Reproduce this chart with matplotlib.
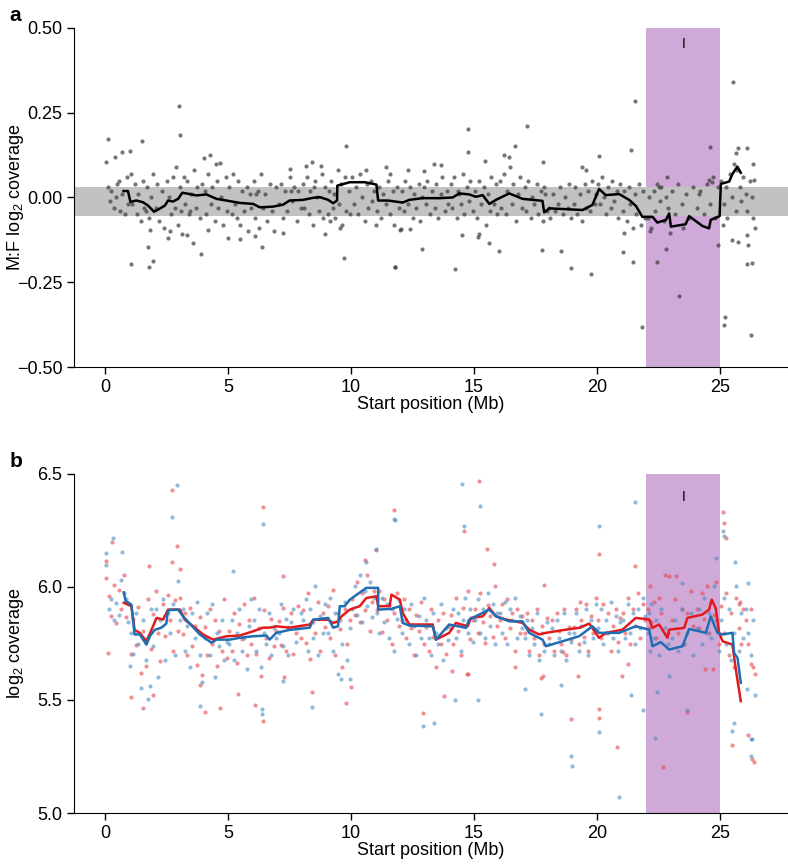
import numpy as np
import matplotlib
matplotlib.use("Agg")
import matplotlib.pyplot as plt

plt.rcParams['font.family'] = ['Liberation Sans', 'DejaVu Sans']
plt.rcParams['mathtext.default'] = 'regular'

# --- panel a: M:F log2 coverage per window ---
a_x = [0.1, 0.25, 0.35, 0.45, 0.55, 0.6, 0.7, 0.8, 0.9, 0.95, 0.5, 0.2,
       1.05, 1.1, 1.2, 1.3, 1.35, 1.45, 1.55, 1.6, 1.7, 1.8, 1.85, 1.95, 1.65,
       2.05, 2.1, 2.2, 2.3, 2.4, 2.5, 2.55, 2.6, 2.7, 2.75, 2.85, 2.9, 2.95, 2.65,
       3.05, 3.1, 3.2, 3.25, 3.35, 3.4, 3.5, 3.6, 3.7, 3.75, 3.85, 3.95, 3.45,
       4.05, 4.1, 4.2, 4.3, 4.35, 4.45, 4.55, 4.6, 4.7, 4.8, 4.9, 4.95, 4.5,
       5.05, 5.15, 5.2, 5.3, 5.4, 5.5, 5.55, 5.65, 5.75, 5.8, 5.9, 5.95, 5.35,
       6.05, 6.1, 6.2, 6.25, 6.35, 6.4, 6.5, 6.6, 6.7, 6.8, 6.85, 6.95, 6.15,
       7.05, 7.15, 7.25, 7.3, 7.4, 7.5, 7.6, 7.7, 7.8, 7.85, 7.95, 7.55,
       8.05, 8.1, 8.2, 8.3, 8.35, 8.45, 8.55, 8.6, 8.7, 8.8, 8.85, 8.95, 8.5,
       9.05, 9.1, 9.15, 9.2, 9.25, 9.3, 9.35, 9.45, 9.5, 9.6, 9.65, 9.75, 9.8, 9.9, 9.95, 9.55,
       10.05, 10.1, 10.2, 10.3, 10.35, 10.45, 10.55, 10.65, 10.7, 10.8, 10.85, 10.95,
       11.05, 11.15, 11.2, 11.3, 11.4, 11.5, 11.6, 11.7, 11.75, 11.85, 11.95,
       12.05, 12.15, 12.2, 12.3, 12.4, 12.5, 12.55, 12.65, 12.75, 12.8, 12.9, 12.95,
       13.05, 13.1, 13.2, 13.3, 13.4, 13.45, 13.55, 13.65, 13.7, 13.8, 13.9, 13.95,
       14.05, 14.1, 14.2, 14.3, 14.35, 14.45, 14.55, 14.6, 14.7, 14.8, 14.85, 14.95, 14.4,
       15.05, 15.1, 15.2, 15.3, 15.4, 15.5, 15.55, 15.65, 15.7, 15.8, 15.9, 15.95,
       16.05, 16.1, 16.2, 16.3, 16.35, 16.45, 16.55, 16.6, 16.7, 16.8, 16.85, 16.95,
       17.05, 17.1, 17.2, 17.3, 17.35, 17.45, 17.55, 17.6, 17.7, 17.8, 17.85, 17.95, 17.9,
       18.05, 18.1, 18.2, 18.3, 18.4, 18.5, 18.6, 18.7, 18.8, 18.85, 18.95,
       19.05, 19.1, 19.2, 19.3, 19.4, 19.5, 19.55, 19.65, 19.7, 19.8, 19.9, 19.95,
       20.05, 20.1, 20.2, 20.3, 20.35, 20.45, 20.55, 20.6, 20.7, 20.8, 20.85, 20.95,
       21.05, 21.1, 21.2, 21.3, 21.35, 21.45, 21.55, 21.6, 21.7, 21.8, 21.85, 21.95,
       22.05, 22.1, 22.2, 22.3, 22.35, 22.45, 22.55, 22.6, 22.7, 22.8, 22.9, 22.15,
       23.05, 23.15, 23.3, 23.45, 23.6, 23.75, 23.9, 23.5,
       24.05, 24.2, 24.35, 24.45, 24.6, 24.7, 24.8, 24.9, 24.15,
       25.05, 25.15, 25.25, 25.3, 25.4, 25.5, 25.55, 25.65, 25.7, 25.8, 25.85, 25.95,
       26.05, 26.1, 26.2, 26.3, 26.35,
       # outliers
       0.05, 0.12, 0.41, 0.68, 1.03, 1.52, 1.06, 1.78, 1.75, 1.96, 1.82, 2.99, 3.05,
       4.25, 4.02, 3.89, 3.58, 3.14, 3.33, 4.2, 4.66, 4.99, 5.47, 6.1, 6.38, 7.24,
       7.5, 8.18, 8.41, 8.78, 8.96, 9.8, 9.73, 10.62, 11.4, 11.03, 11.6, 11.8, 11.98,
       21.55, 25.53, 14.77, 17.15, 16.65, 14.77, 21.36, 24.57, 25.72, 26.09, 26.34,
       26.38, 26.41, 26.11, 26.15, 26.29, 26.11, 26.25, 25.2, 25.16, 21.82, 23.34,
       22.43, 22.82, 22.96, 24.93, 25.5, 25.74, 21.07, 21.44, 21.11, 19.76, 18.94,
       18.53, 17.76, 16.02, 15.59, 14.22, 12.88, 11.8, 14.51, 15.14, 15.21, 12.4,
       12.03, 22.86, 22.52, 24.55, 24.69, 25.12, 25.64, 20.06, 19.37, 19.55, 17.81,
       13.38, 13.66, 12.98, 16.23, 16.43, 15.45, 12.32]
a_y = [0.03, 0.02, -0.03, 0.0, 0.05, -0.04, 0.01, -0.05, 0.06, -0.02, 0.04, -0.01,
       0.07, -0.02, 0.04, -0.05, 0.01, -0.07, 0.05, -0.03, 0.03, -0.06, 0.0, 0.07, -0.04,
       -0.03, 0.04, -0.07, 0.02, -0.09, 0.05, -0.12, 0.0, -0.05, 0.06, -0.03, 0.09, -0.08, -0.1,
       0.03, -0.04, 0.06, -0.02, 0.05, -0.05, 0.01, 0.08, -0.03, 0.03, -0.06, 0.04, -0.04,
       0.02, -0.05, 0.07, -0.02, 0.03, -0.07, 0.05, -0.03, 0.0, -0.08, 0.06, -0.04, 0.1,
       0.03, -0.05, 0.07, -0.02, 0.05, -0.08, 0.02, -0.04, 0.03, -0.1, 0.01, -0.03, -0.06,
       0.05, -0.06, 0.02, -0.09, 0.07, -0.03, 0.01, -0.07, 0.04, -0.04, -0.1, 0.03, 0.01,
       -0.02, 0.04, -0.06, 0.02, -0.04, 0.06, -0.01, 0.03, -0.07, 0.02, -0.03, 0.02,
       0.04, -0.03, 0.06, -0.05, 0.02, -0.08, 0.05, 0.0, -0.04, 0.07, -0.06, 0.03, 0.03,
       -0.05, 0.02, -0.07, 0.05, -0.03, 0.01, -0.06, 0.08, -0.02, 0.04, -0.08, 0.06, -0.04, 0.02, -0.05, -0.09,
       0.06, -0.02, 0.03, -0.05, 0.07, 0.0, -0.07, 0.04, -0.03, 0.05, -0.01, 0.02,
       -0.04, 0.03, -0.06, 0.01, -0.02, 0.05, -0.05, 0.02, -0.08, 0.03, -0.03,
       0.02, -0.04, 0.05, -0.02, 0.03, -0.06, 0.01, -0.03, 0.04, -0.07, 0.0, 0.03,
       -0.02, 0.05, -0.05, 0.02, -0.03, 0.04, -0.06, 0.01, 0.06, -0.04, 0.02, -0.02,
       0.04, -0.03, 0.06, -0.06, 0.02, -0.02, 0.07, -0.05, 0.03, -0.01, 0.05, -0.04, 0.01,
       0.02, -0.06, 0.05, -0.02, 0.03, -0.08, 0.01, -0.04, 0.06, -0.02, 0.04, -0.05,
       0.05, -0.03, 0.07, -0.05, 0.02, 0.09, -0.02, 0.04, -0.07, 0.01, 0.06, -0.03,
       0.03, -0.04, 0.05, -0.06, 0.0, -0.02, 0.04, -0.05, 0.02, -0.07, 0.03, -0.04, 0.01,
       -0.03, -0.06, 0.01, -0.04, -0.02, 0.03, -0.05, 0.0, -0.03, 0.04, -0.06,
       -0.02, 0.03, -0.05, 0.01, -0.07, 0.04, -0.03, 0.02, -0.04, 0.05, -0.02, 0.01,
       0.04, -0.02, 0.06, 0.0, -0.05, 0.03, -0.03, 0.05, -0.01, 0.02, -0.06, 0.04,
       -0.04, 0.02, -0.07, 0.03, -0.02, -0.09, 0.01, -0.05, 0.04, -0.08, 0.02, -0.06,
       -0.06, 0.0, -0.09, 0.02, -0.04, 0.04, -0.01, 0.03, -0.07, 0.0, -0.03, -0.1,
       0.02, -0.05, 0.04, -0.02, 0.01, -0.06, 0.03, -0.09,
       -0.03, 0.02, -0.05, 0.04, -0.02, 0.06, -0.06, 0.03, 0.01,
       0.05, -0.02, 0.03, -0.06, 0.07, 0.0, 0.1, -0.04, 0.08, 0.03, -0.01, 0.06,
       0.01, -0.04, 0.05, 0.0, -0.06,
       # outliers
       0.104, 0.173, 0.12, 0.134, 0.137, 0.168, -0.196, -0.206, -0.147, -0.186, -0.095, 0.27, 0.184,
       0.124, 0.117, -0.166, -0.134, -0.107, -0.112, -0.097, 0.101, -0.119, -0.121, -0.115, -0.147, -0.104,
       0.085, 0.092, 0.106, 0.092, -0.107, 0.152, -0.179, 0.082, 0.09, -0.08, 0.07, -0.206, -0.097,
       0.286, 0.342, 0.201, 0.212, 0.153, 0.135, 0.14, 0.148, 0.145, 0.145, 0.099,
       0.052, -0.091, -0.111, -0.14, -0.194, -0.197, -0.406, -0.352, -0.376, -0.383, -0.29,
       -0.191, -0.153, -0.104, -0.14, -0.125, -0.13, -0.162, -0.189, -0.106, -0.226, -0.209,
       -0.158, -0.155, -0.157, -0.135, -0.212, -0.153, -0.206, -0.112, -0.117, -0.108, -0.092,
       -0.094, 0.061, 0.032, 0.052, 0.047, -0.082, 0.13, 0.122, 0.091, 0.081, 0.106,
       0.1, 0.096, 0.079, 0.125, 0.12, 0.109, 0.081]

# running median (panel a)
a_line_x = [0.75, 0.93, 1.03, 1.27, 1.54, 1.75, 1.99, 2.22, 2.43, 2.56, 2.76, 2.97, 3.14,
            3.37, 3.71, 4.12, 4.53, 4.93, 5.47, 6.02, 6.29, 6.83, 7.24, 7.5, 8.05, 8.46,
            8.73, 9.07, 9.27, 9.43, 9.44, 9.95, 10.56, 11.03, 11.1, 11.5, 12.1, 12.37,
            12.9, 13.6, 14.13, 14.4, 14.8, 15.08, 15.35, 15.62, 15.89, 16.43, 16.97,
            17.78, 17.85, 18.06, 19.41, 19.81, 20.08, 20.35, 20.9, 21.3, 21.58, 21.84,
            22.25, 22.45, 22.8, 22.93, 23.0, 23.6, 23.74, 24.28, 24.55, 24.62, 24.98,
            25.03, 25.37, 25.5, 25.7, 25.84]
a_line_y = [0.019, 0.019, -0.013, -0.009, -0.014, -0.024, -0.042, -0.033, -0.024, -0.009,
            -0.012, -0.004, 0.014, 0.011, 0.006, 0.009, -0.004, -0.009, -0.016, -0.019,
            -0.029, -0.027, -0.021, -0.009, -0.007, -0.001, 0.001, -0.007, -0.017, -0.009,
            0.035, 0.045, 0.045, 0.038, -0.009, -0.009, -0.015, -0.007, -0.002, -0.002,
            0.0, 0.012, 0.009, 0.002, 0.007, -0.019, -0.007, 0.012, -0.004, -0.01, -0.044,
            -0.032, -0.037, -0.022, 0.025, 0.007, 0.01, -0.007, -0.025, -0.057, -0.057,
            -0.074, -0.066, -0.047, -0.086, -0.079, -0.055, -0.084, -0.091, -0.066, -0.055,
            0.04, 0.047, 0.069, 0.091, 0.073]

# --- panel b: log2 coverage, male (red) and female (blue) per window ---
b_x = [0.05, 0.15, 0.25, 0.35, 0.45, 0.55, 0.65, 0.75, 0.85, 0.95,
       1.05, 1.15, 1.25, 1.35, 1.45, 1.55, 1.65, 1.75, 1.85, 1.95,
       2.05, 2.15, 2.25, 2.35, 2.45, 2.55, 2.65, 2.75, 2.85, 2.95,
       3.05, 3.15, 3.25, 3.35, 3.45, 3.55, 3.65, 3.75, 3.85, 3.95,
       4.05, 4.15, 4.25, 4.35, 4.45, 4.55, 4.65, 4.75, 4.85, 4.95,
       5.05, 5.15, 5.25, 5.35, 5.45, 5.55, 5.65, 5.75, 5.85, 5.95,
       6.05, 6.15, 6.25, 6.35, 6.45, 6.55, 6.65, 6.75, 6.85, 6.95,
       7.05, 7.15, 7.25, 7.35, 7.45, 7.55, 7.65, 7.75, 7.85, 7.95,
       8.05, 8.15, 8.25, 8.35, 8.45, 8.55, 8.65, 8.75, 8.85, 8.95,
       9.05, 9.15, 9.25, 9.35, 9.45, 9.55, 9.65, 9.75, 9.85, 9.95,
       10.05, 10.15, 10.25, 10.35, 10.45, 10.55, 10.65, 10.75, 10.85, 10.95,
       11.05, 11.15, 11.25, 11.35, 11.45, 11.55, 11.65, 11.75, 11.85, 11.95,
       12.05, 12.15, 12.25, 12.35, 12.45, 12.55, 12.65, 12.75, 12.85, 12.95,
       13.05, 13.15, 13.25, 13.35, 13.45, 13.55, 13.65, 13.75, 13.85, 13.95,
       14.05, 14.15, 14.25, 14.35, 14.45, 14.55, 14.65, 14.75, 14.85, 14.95,
       15.05, 15.15, 15.25, 15.35, 15.45, 15.55, 15.65, 15.75, 15.85, 15.95,
       16.05, 16.15, 16.25, 16.35, 16.45, 16.55, 16.65, 16.75, 16.85, 16.95,
       17.05, 17.15, 17.25, 17.35, 17.45, 17.55, 17.65, 17.75, 17.85, 17.95,
       18.05, 18.15, 18.25, 18.35, 18.45, 18.55, 18.65, 18.75, 18.85, 18.95,
       19.05, 19.15, 19.25, 19.35, 19.45, 19.55, 19.65, 19.75, 19.85, 19.95,
       20.05, 20.15, 20.25, 20.35, 20.45, 20.55, 20.65, 20.75, 20.85, 20.95,
       21.05, 21.15, 21.25, 21.35, 21.45, 21.55, 21.65, 21.75, 21.85, 21.95,
       22.05, 22.1, 22.15, 22.2, 22.3, 22.4, 22.5, 22.6, 22.75, 22.9,
       23.05, 23.15, 23.3, 23.45, 23.55, 23.65, 23.8, 23.9,
       24.05, 24.15, 24.25, 24.35, 24.45, 24.55, 24.65, 24.75, 24.85, 24.95,
       25.05, 25.15, 25.25, 25.35, 25.45, 25.55, 25.65, 25.75, 25.85, 25.95,
       26.05, 26.15, 26.25, 26.35]
red_y = [6.041, 5.962, 5.873, 6.008, 5.842, 5.987, 5.904, 6.052, 5.868, 5.927,
         5.703, 5.857, 5.744, 5.912, 5.618, 5.806, 5.652, 5.948, 5.727, 5.881,
         5.983, 5.797, 5.671, 5.923, 5.784, 5.966, 5.853, 5.716, 5.942, 5.805,
         5.951, 5.793, 5.884, 5.698, 5.907, 5.741, 5.826, 5.653, 5.866, 5.612,
         5.824, 5.697, 5.903, 5.746, 5.852, 5.651, 5.805, 5.718, 5.947, 5.684,
         5.806, 5.716, 5.887, 5.663, 5.834, 5.771, 5.924, 5.697, 5.853, 5.748,
         5.953, 5.702, 5.817, 5.606, 5.896, 5.774, 5.684, 5.857, 5.738, 5.803,
         5.851, 5.742, 5.906, 5.716, 5.823, 5.884, 5.703, 5.797, 5.917, 5.776,
         5.898, 5.754, 5.972, 5.683, 5.846, 5.798, 5.932, 5.716, 5.884, 5.823,
         5.917, 5.776, 5.985, 5.697, 5.883, 5.816, 5.647, 5.903, 5.748, 5.852,
         5.948, 5.877, 6.024, 5.846, 5.972, 5.897, 6.053, 5.803, 5.934, 5.984,
         5.897, 5.983, 5.802, 5.947, 5.853, 5.918, 5.746, 5.884, 5.972, 5.826,
         5.853, 5.948, 5.776, 5.904, 5.818, 5.697, 5.876, 5.803, 5.932, 5.748,
         5.823, 5.716, 5.902, 5.777, 5.647, 5.853, 5.746, 5.884, 5.703, 5.827,
         5.876, 5.748, 5.953, 5.804, 5.697, 5.906, 5.827, 5.984, 5.772, 5.853,
         5.903, 5.797, 5.972, 5.846, 5.752, 5.918, 5.873, 5.777, 6.004, 5.826,
         5.853, 5.924, 5.776, 5.948, 5.817, 5.884, 5.716, 5.903, 5.797, 5.872,
         5.797, 5.883, 5.718, 5.854, 5.776, 5.903, 5.697, 5.826, 5.748, 5.863,
         5.776, 5.853, 5.716, 5.884, 5.803, 5.748, 5.903, 5.697, 5.823, 5.772,
         5.823, 5.903, 5.748, 5.853, 5.777, 5.924, 5.716, 5.873, 5.797, 5.953,
         5.853, 5.776, 5.924, 5.797, 5.883, 5.716, 5.826, 5.903, 5.757, 5.864,
         5.884, 5.797, 5.953, 5.748, 5.903, 5.826, 5.972, 5.776, 5.924, 5.853,
         5.903, 5.817, 6.004, 5.846, 5.934, 5.776, 5.953, 5.884, 6.052, 5.797,
         5.853, 5.948, 5.797, 5.903, 5.748, 5.884, 5.984, 5.826,
         5.903, 5.817, 5.972, 5.857, 6.004, 5.797, 5.934, 5.876, 6.024, 5.748,
         5.917, 5.797, 5.972, 5.697, 5.884, 5.647, 5.953, 5.817, 5.748, 5.903,
         5.853, 5.748, 5.903, 5.647]
blue_y = [6.098, 5.903, 5.948, 5.853, 5.927, 5.876, 6.032, 5.972, 5.947, 5.846,
          5.797, 5.703, 5.884, 5.748, 5.553, 5.853, 5.676, 5.776, 5.903, 5.737,
          5.903, 5.603, 5.853, 5.948, 5.676, 5.884, 5.797, 5.924, 5.697, 6.028,
          5.853, 5.903, 5.716, 5.826, 5.647, 5.884, 5.776, 5.932, 5.697, 5.578,
          5.776, 5.884, 5.697, 5.924, 5.603, 5.797, 5.737, 5.853, 5.676, 5.757,
          5.748, 5.853, 5.676, 5.797, 5.903, 5.716, 5.776, 5.637, 5.826, 5.948,
          5.853, 5.716, 5.903, 5.647, 5.797, 5.748, 5.884, 5.697, 5.817, 5.776,
          5.797, 5.924, 5.737, 5.857, 5.697, 5.843, 5.903, 5.757, 5.817, 5.884,
          5.853, 5.948, 5.716, 5.903, 5.776, 6.004, 5.697, 5.873, 5.797, 5.924,
          5.797, 5.953, 5.716, 5.884, 5.617, 5.853, 5.748, 5.932, 5.676, 5.817,
          5.903, 6.004, 5.876, 6.052, 5.846, 5.984, 5.917, 6.024, 5.866, 5.953,
          5.884, 5.797, 5.953, 5.846, 5.924, 5.776, 5.903, 5.716, 5.857, 5.943,
          5.797, 5.903, 5.853, 5.748, 5.924, 5.826, 5.697, 5.873, 5.776, 5.953,
          5.853, 5.776, 5.697, 5.884, 5.797, 5.748, 5.924, 5.676, 5.817, 5.767,
          5.817, 5.903, 5.776, 5.884, 5.716, 5.853, 5.953, 5.797, 5.903, 5.757,
          5.853, 5.948, 5.797, 5.903, 5.776, 5.972, 5.826, 5.924, 5.748, 5.884,
          5.884, 5.797, 5.932, 5.748, 5.903, 5.853, 5.953, 5.776, 5.873, 5.817,
          5.776, 5.853, 5.697, 5.817, 5.748, 5.884, 5.676, 5.797, 5.716, 5.843,
          5.748, 5.817, 5.697, 5.853, 5.776, 5.716, 5.884, 5.676, 5.797, 5.757,
          5.797, 5.884, 5.716, 5.826, 5.757, 5.903, 5.697, 5.853, 5.776, 5.924,
          5.817, 5.903, 5.748, 5.853, 5.797, 5.932, 5.776, 5.873, 5.716, 5.843,
          5.853, 5.776, 5.924, 5.797, 5.884, 5.748, 5.903, 5.817, 5.953, 5.873,
          5.797, 5.884, 5.716, 5.924, 5.776, 5.853, 5.697, 5.903, 5.817, 5.748,
          5.776, 5.853, 5.716, 5.903, 5.748, 5.797, 5.884, 5.697,
          5.817, 5.903, 5.748, 5.953, 5.797, 5.884, 5.776, 6.004, 5.853, 5.716,
          5.853, 5.953, 5.748, 5.903, 5.676, 5.797, 6.004, 5.716, 5.884, 5.776,
          5.903, 5.797, 5.697, 5.853]

red_out_x = [2.74, 2.94, 6.4, 0.05, 0.3, 0.12, 1.06, 1.54, 1.95, 4.08, 4.66, 6.08, 6.4,
             9.78, 9.99, 8.41, 7.26, 5.41, 3.85, 1.79, 2.74, 3.04, 7.24, 11.0, 10.56,
             15.21, 11.76, 14.6, 15.52, 15.82, 20.06, 21.53, 25.1, 25.16, 25.23, 22.66,
             20.8, 18.93, 20.06, 20.09, 25.5, 26.15, 26.31, 26.38, 12.94, 13.76, 14.1,
             14.7, 14.76, 16.67, 17.72, 17.81, 18.6, 19.21, 21.03, 21.24, 23.65, 24.39,
             24.72, 26.25, 26.42, 25.8, 25.75, 17.85, 19.3, 23.2, 22.93]
red_out_y = [6.43, 6.183, 6.353, 6.113, 6.197, 5.708, 5.514, 5.465, 5.524, 5.446, 5.465,
             5.48, 5.409, 5.485, 5.557, 5.536, 5.6, 5.527, 5.568, 6.091, 6.109, 6.08,
             6.047, 6.162, 6.118, 6.467, 6.342, 6.246, 6.168, 6.102, 6.147, 6.094, 6.33,
             6.283, 6.216, 5.205, 5.293, 5.418, 5.458, 5.421, 5.303, 5.343, 5.237, 5.225,
             5.443, 5.517, 5.627, 5.617, 5.613, 5.647, 5.598, 5.605, 5.713, 5.608, 5.608,
             5.657, 5.446, 5.638, 5.635, 5.657, 5.613, 5.932, 5.925, 6.01, 5.932, 6.05,
             6.05]
blue_out_x = [2.94, 2.74, 6.4, 0.33, 0.05, 0.68, 1.03, 1.75, 1.84, 3.86, 6.38, 6.38, 8.41,
              9.95, 9.58, 10.6, 11.0, 11.77, 5.2, 7.24, 14.51, 11.76, 15.24, 14.6, 21.55,
              20.06, 25.12, 25.14, 20.9, 18.93, 18.97, 22.36, 20.06, 17.74, 15.14, 12.94,
              13.38, 14.22, 17.08, 18.53, 21.37, 21.85, 22.43, 22.93, 23.65, 25.5, 25.57,
              26.08, 26.25, 26.31, 26.25, 26.42, 26.15, 24.82, 25.61, 23.47]
blue_out_y = [6.452, 6.308, 6.28, 6.216, 6.15, 6.153, 5.65, 5.505, 5.561, 5.473, 5.458,
              5.436, 5.468, 5.594, 5.594, 6.109, 6.168, 6.297, 6.069, 5.586, 6.455, 6.3,
              6.356, 6.271, 6.378, 6.268, 6.249, 6.224, 5.072, 5.252, 5.208, 5.333, 5.358,
              5.44, 5.498, 5.387, 5.399, 5.502, 5.549, 5.568, 5.52, 5.455, 5.535, 5.608,
              5.455, 5.362, 5.396, 5.549, 5.326, 5.329, 5.252, 5.52, 6.018, 6.128, 6.109,
              6.018]

red_line_x = [0.76, 1.07, 1.2, 1.41, 1.68, 1.95, 2.09, 2.36, 2.56, 3.04, 3.24, 3.58, 3.98,
              4.39, 4.93, 5.47, 6.02, 6.42, 6.69, 6.96, 7.5, 8.32, 8.46, 9.07, 9.27, 9.47,
              9.61, 9.95, 10.35, 10.62, 11.03, 11.1, 11.57, 11.64, 11.98,
              12.1, 12.37, 13.32, 13.45, 13.99, 14.26, 14.74, 14.87, 15.35, 15.62, 15.89,
              16.3, 16.97, 17.24, 17.65, 17.92, 18.6, 19.27, 19.68, 20.08, 20.36, 21.03,
              21.57, 22.12, 22.25, 22.52, 22.86, 22.93, 23.54, 23.67, 24.28, 24.55, 24.66,
              24.82, 24.96, 25.1, 25.5, 25.64, 25.84]
red_line_y = [5.93, 5.915, 5.81, 5.797, 5.76, 5.826, 5.863, 5.856, 5.9, 5.9, 5.855, 5.826,
              5.79, 5.767, 5.782, 5.785, 5.804, 5.82, 5.82, 5.826, 5.82, 5.834, 5.855,
              5.855, 5.841, 5.848, 5.87, 5.9, 5.915, 5.951, 5.959, 5.915, 5.915, 5.966,
              5.944, 5.885, 5.834, 5.834, 5.767, 5.797, 5.841, 5.826, 5.863, 5.87, 5.907,
              5.87, 5.856, 5.841, 5.811, 5.79, 5.797, 5.809, 5.819, 5.838, 5.775, 5.797,
              5.811, 5.863, 5.856, 5.819, 5.834, 5.775, 5.811, 5.819, 5.863, 5.878, 5.9,
              5.944, 5.907, 5.797, 5.76, 5.745, 5.635, 5.495]
blue_line_x = [0.76, 0.84, 1.07, 1.2, 1.41, 1.68, 1.82, 2.02, 2.29, 2.49, 2.56, 2.97, 3.17,
               3.51, 3.85, 4.33, 4.53, 5.07, 5.47, 6.02, 6.56, 6.69, 6.96, 7.5, 8.32, 8.46,
               9.07, 9.27, 9.47, 9.54, 9.74, 9.95, 10.62, 11.1, 11.1, 11.64, 11.98,
               12.1, 12.37, 13.32, 13.45, 13.99, 14.67, 14.8, 15.21, 15.62, 15.89, 16.43,
               16.97, 17.24, 17.78, 17.92, 18.6, 19.27, 19.81, 20.08, 20.9, 21.57, 22.12,
               22.25, 22.59, 22.93, 23.47, 23.74, 24.42, 24.62, 24.89, 25.1, 25.5, 25.57,
               25.71, 25.84]
blue_line_y = [5.976, 5.937, 5.922, 5.79, 5.79, 5.745, 5.782, 5.81, 5.82, 5.838, 5.897,
               5.9, 5.87, 5.83, 5.79, 5.753, 5.767, 5.767, 5.775, 5.782, 5.785, 5.767,
               5.797, 5.81, 5.82, 5.855, 5.863, 5.82, 5.826, 5.915, 5.915, 5.944, 5.996,
               5.996, 5.9, 5.903, 5.915, 5.841, 5.829, 5.826, 5.767, 5.834, 5.819, 5.856,
               5.878, 5.9, 5.87, 5.848, 5.848, 5.797, 5.767, 5.738, 5.76, 5.782, 5.826,
               5.797, 5.797, 5.826, 5.811, 5.738, 5.756, 5.723, 5.738, 5.814, 5.797, 5.87,
               5.797, 5.79, 5.797, 5.708, 5.686, 5.576]

region_start, region_end = 22.0, 25.0
band_lo, band_hi = -0.055, 0.032

PURPLE = '#cfa9d7'
RED_PT, BLUE_PT = '#e8474d', '#4a8cc4'
RED_LN, BLUE_LN = '#e31a1c', '#1f6eb2'
FS = 13

fig = plt.figure(figsize=(7.88, 8.65), dpi=100)
ax1 = fig.add_axes([0.094, 0.5757, 0.906, 0.392])
ax2 = fig.add_axes([0.094, 0.0601, 0.906, 0.392])

xlim = (-1.26, 27.76)

# panel a
ax1.axvspan(region_start, region_end, color=PURPLE, lw=0, zorder=0)
ax1.axhspan(band_lo, band_hi, color='#c2c2c2', lw=0, zorder=1)
ax1.scatter(a_x, a_y, s=9, color='#3c3c3c', alpha=0.7, lw=0, zorder=2)
ax1.plot(a_line_x, a_line_y, color='black', lw=1.8, zorder=3)
ax1.text(23.5, 0.452, 'I', ha='center', va='center', fontsize=10)
ax1.set_ylim(-0.5, 0.5)
ax1.set_yticks([-0.5, -0.25, 0, 0.25, 0.5])
ax1.set_yticklabels(['\u22120.50', '\u22120.25', '0.00', '0.25', '0.50'])
ax1.set_ylabel('M:F log$_2$ coverage', fontsize=FS)

# panel b
ax2.axvspan(region_start, region_end, color=PURPLE, lw=0, zorder=0)
ax2.scatter(b_x, red_y, s=9, color=RED_PT, alpha=0.6, lw=0, zorder=2)
ax2.scatter(b_x, blue_y, s=9, color=BLUE_PT, alpha=0.6, lw=0, zorder=2)
ax2.scatter(red_out_x, red_out_y, s=9, color=RED_PT, alpha=0.6, lw=0, zorder=2)
ax2.scatter(blue_out_x, blue_out_y, s=9, color=BLUE_PT, alpha=0.6, lw=0, zorder=2)
ax2.plot(red_line_x, red_line_y, color=RED_LN, lw=1.8, zorder=3)
ax2.plot(blue_line_x, blue_line_y, color=BLUE_LN, lw=1.8, zorder=4)
ax2.text(23.5, 6.40, 'I', ha='center', va='center', fontsize=10)
ax2.set_ylim(5.0, 6.5)
ax2.set_yticks([5.0, 5.5, 6.0, 6.5])
ax2.set_ylabel('log$_2$ coverage', fontsize=FS)

for ax in (ax1, ax2):
    ax.set_xlim(*xlim)
    ax.set_xticks([0, 5, 10, 15, 20, 25])
    ax.set_xlabel('Start position (Mb)', fontsize=FS, labelpad=0)
    ax.yaxis.set_label_coords(-0.068, 0.5)
    ax.spines['top'].set_visible(False)
    ax.spines['right'].set_visible(False)
    ax.tick_params(labelsize=FS, length=5, width=1, direction='out')

fig.text(0.012, 0.982, 'a', fontsize=15, fontweight='bold', va='center')
fig.text(0.012, 0.467, 'b', fontsize=15, fontweight='bold', va='center')

fig.savefig('out.png', dpi=100)
